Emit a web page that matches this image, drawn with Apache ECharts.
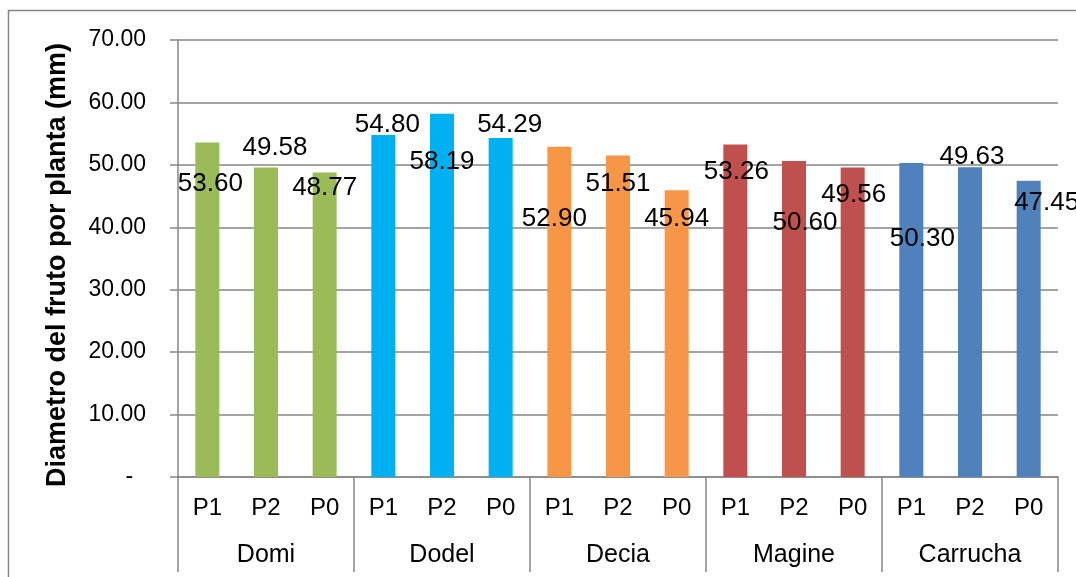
<!DOCTYPE html>
<html>
<head>
<meta charset="utf-8">
<script src="https://cdn.jsdelivr.net/npm/echarts@6/dist/echarts.min.js"></script>
<style>
  html, body { margin: 0; padding: 0; background: #fff; }
  #chart { width: 1076px; height: 577px; }
</style>
</head>
<body>
<div id="chart"></div>
<script>
// Fruit diameter per plant (mm), by variety and treatment
const varieties = ['Domi', 'Dodel', 'Decia', 'Magine', 'Carrucha'];
const treatments = ['P1', 'P2', 'P0'];
const diameterDomi = [53.60, 49.58, 48.77];
const diameterDodel = [54.80, 58.19, 54.29];
const diameterDecia = [52.90, 51.51, 45.94];
const diameterMagine = [53.26, 50.60, 49.56];
const diameterCarrucha = [50.30, 49.63, 47.45];
const yTicks = [0, 10, 20, 30, 40, 50, 60, 70];

// One colour per variety
const varietyColors = ['#9BBB59', '#00B0F0', '#F79646', '#C0504D', '#4F81BD'];
// Where each value label sits relative to the top-centre of its bar [dx, dy]
const labelOffsets = [
  [3, 41], [9, -20], [0, 15],
  [4, -10], [0, 48], [9, -13],
  [-5, 72], [0, 28], [0, 29],
  [1, 27], [11, 62], [1, 27],
  [11, 76], [2, -10], [18, 22]
];

const groups = [diameterDomi, diameterDodel, diameterDecia, diameterMagine, diameterCarrucha];
const categories = [];
const barData = [];
groups.forEach((vals, g) => {
  vals.forEach((v, i) => {
    const idx = categories.length;
    categories.push(treatments[i]);
    barData.push({
      value: v,
      itemStyle: { color: varietyColors[g] },
      label: { offset: labelOffsets[idx] }
    });
  });
});

const gray = '#868686';
const font = '"Liberation Sans", Arial, sans-serif';

const chart = echarts.init(document.getElementById('chart'), null, { renderer: 'canvas' });
chart.setOption({
  animation: false,
  backgroundColor: '#ffffff',
  textStyle: { fontFamily: font, color: '#000' },
  grid: { left: 178, right: 18, top: 40, bottom: 100, containLabel: false },
  graphic: [
    {
      type: 'rect',
      shape: { x: 8.5, y: 10.5, width: 1200, height: 700 },
      style: { fill: 'none', stroke: gray, lineWidth: 1.5 },
      silent: true
    },
    {
      type: 'text',
      x: 58, y: 265,
      rotation: Math.PI / 2,
      style: {
        text: 'Diametro del fruto por planta (mm)',
        font: 'bold 27px ' + font,
        fill: '#000',
        align: 'center',
        verticalAlign: 'middle'
      }
    }
  ],
  xAxis: [
    {
      type: 'category',
      position: 'bottom',
      data: categories,
      axisLine: { show: true, lineStyle: { color: gray, width: 1.5 } },
      axisTick: { show: false },
      axisLabel: { color: '#000', fontSize: 24, margin: 19, fontFamily: font, interval: 0 },
      splitLine: { show: false }
    },
    {
      type: 'category',
      position: 'bottom',
      offset: 0,
      data: varieties,
      axisLine: { show: false },
      axisTick: { show: true, length: 95, lineStyle: { color: gray, width: 1.5 } },
      axisLabel: { color: '#000', fontSize: 25, margin: 66, fontFamily: font, interval: 0 },
      splitLine: { show: false }
    }
  ],
  yAxis: {
    type: 'value',
    min: yTicks[0],
    max: yTicks[yTicks.length - 1],
    interval: 10,
    axisLine: { show: true, lineStyle: { color: gray, width: 1.5 } },
    axisTick: { show: true, length: 8, lineStyle: { color: gray, width: 1.5 } },
    axisLabel: {
      color: '#000', fontSize: 23, margin: 32, fontFamily: font,
      formatter: v => (v === 0 ? '-  ' : v.toFixed(2))
    },
    splitLine: { show: true, lineStyle: { color: gray, width: 1.5 } }
  },
  series: [{
    type: 'bar',
    xAxisIndex: 0,
    data: barData,
    barWidth: 24,
    label: {
      show: true,
      position: ['50%', 0],
      align: 'center',
      verticalAlign: 'middle',
      color: '#000',
      fontSize: 26,
      fontFamily: font,
      formatter: p => p.value.toFixed(2)
    }
  }]
});
</script>
</body>
</html>
